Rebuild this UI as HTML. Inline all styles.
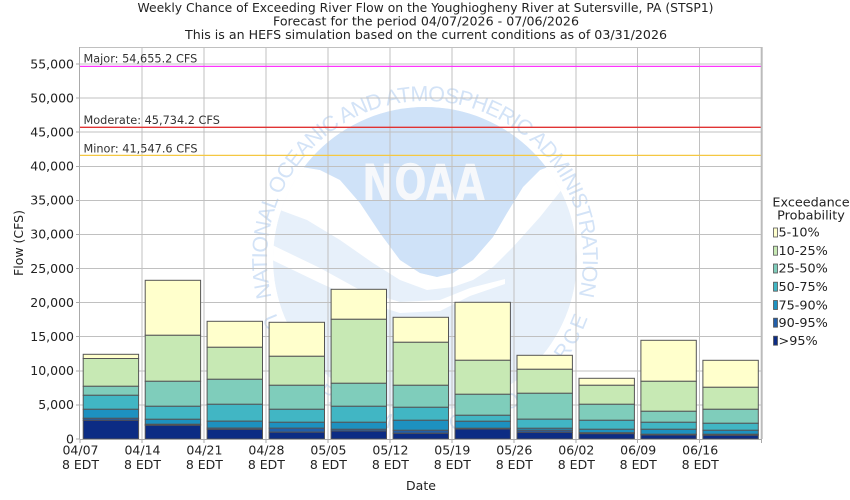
<!DOCTYPE html>
<html><head><meta charset="utf-8"><style>
html,body{margin:0;padding:0;background:#fff;}
svg{display:block;}
text{font-family:"DejaVu Sans","Liberation Sans",sans-serif;}
</style></head><body>
<svg width="850" height="500" viewBox="0 0 850 500" xmlns="http://www.w3.org/2000/svg">
<defs>
<clipPath id="cc"><circle cx="425" cy="259" r="152"/></clipPath>
<path id="topArc" d="M 271.7,297.2 A 158,158 0 1 1 578.6,296.1"/>
<path id="botArc" d="M 262.4,318.2 A 173,173 0 0 0 587.6,318.2"/>
</defs>
<rect x="0" y="0" width="850" height="500" fill="#fff"/>
<!-- titles -->
<text x="425.5" y="12" font-size="12" fill="#222" text-anchor="middle" textLength="576" lengthAdjust="spacingAndGlyphs">Weekly Chance of Exceeding River Flow on the Youghiogheny River at Sutersville, PA (STSP1)</text>
<text x="426" y="25.5" font-size="12" fill="#222" text-anchor="middle" textLength="306" lengthAdjust="spacingAndGlyphs">Forecast for the period 04/07/2026 - 07/06/2026</text>
<text x="426" y="39" font-size="12" fill="#222" text-anchor="middle" textLength="482" lengthAdjust="spacingAndGlyphs">This is an HEFS simulation based on the current conditions as of 03/31/2026</text>

<!-- plot bg -->
<rect x="80" y="47" width="682" height="392" fill="#fff"/>
<!-- watermark -->
<g clip-path="url(#cc)">
<circle cx="425" cy="259" r="152" fill="#e7f0fa"/>
<path d="M 250,140 L 302,167 L 320,170 340,180 360,203 380,233 400,260 420,273 437,277 453,273 473,260 493,237 507,213 523,187 540,170 548,167 L 600,140 L 600,182 L 563,188 540,217 513,247 493,267 473,280 453,287 427,290 400,280 373,263 340,240 307,220 280,210 250,200 Z" fill="#fff"/>
<path d="M 302,167 A 152,152 0 0 1 548,167 L 540,170 523,187 507,213 493,237 473,260 453,273 437,277 420,273 400,260 380,233 360,203 340,180 320,170 Z" fill="#cfe2f8"/>
<path d="M 268,243 L 320,268 360,290 400,302 440,300 470,288 505,279 L 505,284 470,296 440,311 400,313 360,301 320,283 268,258 Z" fill="#fff"/>
</g>
<text x="362" y="200" font-size="50" font-weight="bold" fill="#f6f8fb" textLength="123" lengthAdjust="spacingAndGlyphs">NOAA</text>
<text font-size="21.5" fill="#d3e3f7" style="font-family:'Liberation Sans',sans-serif"><textPath href="#topArc" textLength="572" lengthAdjust="spacing">NATIONAL OCEANIC AND ATMOSPHERIC ADMINISTRATION</textPath></text>
<text font-size="21" fill="#d3e3f7" style="font-family:'Liberation Sans',sans-serif"><textPath href="#botArc" textLength="423" lengthAdjust="spacing">U.S. DEPARTMENT OF COMMERCE</textPath></text>

<!-- grid -->
<g stroke="#c0c0c0" stroke-width="1" shape-rendering="crispEdges">
<line x1="80" y1="404.9" x2="762" y2="404.9"/>
<line x1="80" y1="370.8" x2="762" y2="370.8"/>
<line x1="80" y1="336.7" x2="762" y2="336.7"/>
<line x1="80" y1="302.6" x2="762" y2="302.6"/>
<line x1="80" y1="268.5" x2="762" y2="268.5"/>
<line x1="80" y1="234.4" x2="762" y2="234.4"/>
<line x1="80" y1="200.4" x2="762" y2="200.4"/>
<line x1="80" y1="166.3" x2="762" y2="166.3"/>
<line x1="80" y1="132.2" x2="762" y2="132.2"/>
<line x1="80" y1="98.1" x2="762" y2="98.1"/>
<line x1="80" y1="64.0" x2="762" y2="64.0"/>
<line x1="142" y1="47" x2="142" y2="439"/>
<line x1="203.9" y1="47" x2="203.9" y2="439"/>
<line x1="265.9" y1="47" x2="265.9" y2="439"/>
<line x1="327.9" y1="47" x2="327.9" y2="439"/>
<line x1="389.9" y1="47" x2="389.9" y2="439"/>
<line x1="451.8" y1="47" x2="451.8" y2="439"/>
<line x1="513.8" y1="47" x2="513.8" y2="439"/>
<line x1="575.8" y1="47" x2="575.8" y2="439"/>
<line x1="637.7" y1="47" x2="637.7" y2="439"/>
<line x1="699.7" y1="47" x2="699.7" y2="439"/>
<line x1="80" y1="47.3" x2="762" y2="47.3"/>
</g>

<!-- thresholds -->
<line x1="80" y1="66.4" x2="762" y2="66.4" stroke="#ff33ff" stroke-width="1.3"/>
<line x1="80" y1="127.3" x2="762" y2="127.3" stroke="#e03333" stroke-width="1.3"/>
<line x1="80" y1="155.4" x2="762" y2="155.4" stroke="#f5c842" stroke-width="1.3"/>
<text x="83.5" y="62.7" font-size="11.3" fill="#333">Major: 54,655.2 CFS</text>
<text x="83.5" y="124" font-size="11.3" fill="#333">Moderate: 45,734.2 CFS</text>
<text x="83.5" y="152.7" font-size="11.3" fill="#333">Minor: 41,547.6 CFS</text>

<!-- bars -->
<g stroke="#555" stroke-width="1">
<!-- B1 -->
<rect x="83.2" y="354.3" width="55.4" height="4.2" fill="#ffffcc"/>
<rect x="83.2" y="358.5" width="55.4" height="27.8" fill="#c7e9b4"/>
<rect x="83.2" y="386.3" width="55.4" height="9" fill="#7fcdbb"/>
<rect x="83.2" y="395.3" width="55.4" height="14" fill="#41b6c4"/>
<rect x="83.2" y="409.3" width="55.4" height="9" fill="#1d91c0"/>
<rect x="83.2" y="418.3" width="55.4" height="2" fill="#225ea8"/>
<rect x="83.2" y="420.3" width="55.4" height="18.7" fill="#0c2c84"/>
<!-- B2 -->
<rect x="145.2" y="280.3" width="55.4" height="55" fill="#ffffcc"/>
<rect x="145.2" y="335.3" width="55.4" height="46" fill="#c7e9b4"/>
<rect x="145.2" y="381.3" width="55.4" height="25" fill="#7fcdbb"/>
<rect x="145.2" y="406.3" width="55.4" height="13" fill="#41b6c4"/>
<rect x="145.2" y="419.3" width="55.4" height="5" fill="#1d91c0"/>
<rect x="145.2" y="424.3" width="55.4" height="1" fill="#225ea8"/>
<rect x="145.2" y="425.3" width="55.4" height="13.7" fill="#0c2c84"/>
<!-- B3 -->
<rect x="207.1" y="321.3" width="55.4" height="26" fill="#ffffcc"/>
<rect x="207.1" y="347.3" width="55.4" height="32" fill="#c7e9b4"/>
<rect x="207.1" y="379.3" width="55.4" height="25" fill="#7fcdbb"/>
<rect x="207.1" y="404.3" width="55.4" height="16.9" fill="#41b6c4"/>
<rect x="207.1" y="421.2" width="55.4" height="6.8" fill="#1d91c0"/>
<rect x="207.1" y="428" width="55.4" height="1.3" fill="#225ea8"/>
<rect x="207.1" y="429.3" width="55.4" height="9.7" fill="#0c2c84"/>
<!-- B4 -->
<rect x="269.1" y="322.3" width="55.4" height="34" fill="#ffffcc"/>
<rect x="269.1" y="356.3" width="55.4" height="29" fill="#c7e9b4"/>
<rect x="269.1" y="385.3" width="55.4" height="24" fill="#7fcdbb"/>
<rect x="269.1" y="409.3" width="55.4" height="13" fill="#41b6c4"/>
<rect x="269.1" y="422.3" width="55.4" height="5.9" fill="#1d91c0"/>
<rect x="269.1" y="428.2" width="55.4" height="4" fill="#225ea8"/>
<rect x="269.1" y="432.2" width="55.4" height="6.8" fill="#0c2c84"/>
<!-- B5 -->
<rect x="331.1" y="289.3" width="55.4" height="30" fill="#ffffcc"/>
<rect x="331.1" y="319.3" width="55.4" height="64" fill="#c7e9b4"/>
<rect x="331.1" y="383.3" width="55.4" height="23" fill="#7fcdbb"/>
<rect x="331.1" y="406.3" width="55.4" height="16" fill="#41b6c4"/>
<rect x="331.1" y="422.3" width="55.4" height="7" fill="#1d91c0"/>
<rect x="331.1" y="429.3" width="55.4" height="1.7" fill="#225ea8"/>
<rect x="331.1" y="431" width="55.4" height="8" fill="#0c2c84"/>
<!-- B6 -->
<rect x="393.1" y="317.3" width="55.4" height="25" fill="#ffffcc"/>
<rect x="393.1" y="342.3" width="55.4" height="43" fill="#c7e9b4"/>
<rect x="393.1" y="385.3" width="55.4" height="22" fill="#7fcdbb"/>
<rect x="393.1" y="407.3" width="55.4" height="13" fill="#41b6c4"/>
<rect x="393.1" y="420.3" width="55.4" height="10" fill="#1d91c0"/>
<rect x="393.1" y="430.3" width="55.4" height="3" fill="#225ea8"/>
<rect x="393.1" y="433.3" width="55.4" height="5.7" fill="#0c2c84"/>
<!-- B7 -->
<rect x="455" y="302.3" width="55.4" height="58" fill="#ffffcc"/>
<rect x="455" y="360.3" width="55.4" height="34" fill="#c7e9b4"/>
<rect x="455" y="394.3" width="55.4" height="21" fill="#7fcdbb"/>
<rect x="455" y="415.3" width="55.4" height="6" fill="#41b6c4"/>
<rect x="455" y="421.3" width="55.4" height="7" fill="#1d91c0"/>
<rect x="455" y="428.3" width="55.4" height="0.7" fill="#225ea8"/>
<rect x="455" y="429" width="55.4" height="10" fill="#0c2c84"/>
<!-- B8 -->
<rect x="517" y="355.3" width="55.4" height="14" fill="#ffffcc"/>
<rect x="517" y="369.3" width="55.4" height="24" fill="#c7e9b4"/>
<rect x="517" y="393.3" width="55.4" height="25.9" fill="#7fcdbb"/>
<rect x="517" y="419.2" width="55.4" height="9.1" fill="#41b6c4"/>
<rect x="517" y="428.3" width="55.4" height="2" fill="#1d91c0"/>
<rect x="517" y="430.3" width="55.4" height="2" fill="#225ea8"/>
<rect x="517" y="432.3" width="55.4" height="6.7" fill="#0c2c84"/>
<!-- B9 -->
<rect x="579" y="378.3" width="55.4" height="7" fill="#ffffcc"/>
<rect x="579" y="385.3" width="55.4" height="19" fill="#c7e9b4"/>
<rect x="579" y="404.3" width="55.4" height="16" fill="#7fcdbb"/>
<rect x="579" y="420.3" width="55.4" height="9" fill="#41b6c4"/>
<rect x="579" y="429.3" width="55.4" height="3.5" fill="#1d91c0"/>
<rect x="579" y="432.8" width="55.4" height="0.9" fill="#225ea8"/>
<rect x="579" y="433.7" width="55.4" height="5.3" fill="#0c2c84"/>
<!-- B10 -->
<rect x="640.9" y="340.3" width="55.4" height="41" fill="#ffffcc"/>
<rect x="640.9" y="381.3" width="55.4" height="30" fill="#c7e9b4"/>
<rect x="640.9" y="411.3" width="55.4" height="11" fill="#7fcdbb"/>
<rect x="640.9" y="422.3" width="55.4" height="7" fill="#41b6c4"/>
<rect x="640.9" y="429.3" width="55.4" height="5" fill="#1d91c0"/>
<rect x="640.9" y="434.3" width="55.4" height="0.7" fill="#225ea8"/>
<rect x="640.9" y="435" width="55.4" height="4" fill="#0c2c84"/>
<!-- B11 -->
<rect x="702.9" y="360.3" width="55.4" height="27" fill="#ffffcc"/>
<rect x="702.9" y="387.3" width="55.4" height="22" fill="#c7e9b4"/>
<rect x="702.9" y="409.3" width="55.4" height="14" fill="#7fcdbb"/>
<rect x="702.9" y="423.3" width="55.4" height="7" fill="#41b6c4"/>
<rect x="702.9" y="430.3" width="55.4" height="4" fill="#1d91c0"/>
<rect x="702.9" y="434.3" width="55.4" height="1" fill="#225ea8"/>
<rect x="702.9" y="435.3" width="55.4" height="3.7" fill="#0c2c84"/>
</g>

<!-- axes / frame -->
<g stroke="#aaa" stroke-width="1" shape-rendering="crispEdges">
<line x1="79.5" y1="47" x2="79.5" y2="439.5"/>
<line x1="79.5" y1="439.5" x2="762" y2="439.5"/>
<line x1="76" y1="439" x2="80" y2="439"/>
<line x1="76" y1="404.9" x2="80" y2="404.9"/>
<line x1="76" y1="370.8" x2="80" y2="370.8"/>
<line x1="76" y1="336.7" x2="80" y2="336.7"/>
<line x1="76" y1="302.6" x2="80" y2="302.6"/>
<line x1="76" y1="268.5" x2="80" y2="268.5"/>
<line x1="76" y1="234.4" x2="80" y2="234.4"/>
<line x1="76" y1="200.4" x2="80" y2="200.4"/>
<line x1="76" y1="166.3" x2="80" y2="166.3"/>
<line x1="76" y1="132.2" x2="80" y2="132.2"/>
<line x1="76" y1="98.1" x2="80" y2="98.1"/>
<line x1="76" y1="64.0" x2="80" y2="64.0"/>
<line x1="80" y1="439" x2="80" y2="443"/>
<line x1="142" y1="439" x2="142" y2="443"/>
<line x1="203.9" y1="439" x2="203.9" y2="443"/>
<line x1="265.9" y1="439" x2="265.9" y2="443"/>
<line x1="327.9" y1="439" x2="327.9" y2="443"/>
<line x1="389.9" y1="439" x2="389.9" y2="443"/>
<line x1="451.8" y1="439" x2="451.8" y2="443"/>
<line x1="513.8" y1="439" x2="513.8" y2="443"/>
<line x1="575.8" y1="439" x2="575.8" y2="443"/>
<line x1="637.7" y1="439" x2="637.7" y2="443"/>
<line x1="699.7" y1="439" x2="699.7" y2="443"/>
<line x1="761.7" y1="439" x2="761.7" y2="443"/>
</g>
<line x1="761.7" y1="47" x2="761.7" y2="439" stroke="#bbb" stroke-width="2"/>

<!-- y tick labels -->
<g font-size="12.5" fill="#222" text-anchor="end">
<text x="74" y="443.3">0</text>
<text x="74" y="409.2">5,000</text>
<text x="74" y="375.1">10,000</text>
<text x="74" y="341">15,000</text>
<text x="74" y="306.9">20,000</text>
<text x="74" y="272.8">25,000</text>
<text x="74" y="238.7">30,000</text>
<text x="74" y="204.7">35,000</text>
<text x="74" y="170.6">40,000</text>
<text x="74" y="136.5">45,000</text>
<text x="74" y="102.4">50,000</text>
<text x="74" y="68.3">55,000</text>
</g>
<!-- x tick labels -->
<g font-size="12.5" fill="#222" text-anchor="middle">
<text x="80.5" y="454.5">04/07</text><text x="80.5" y="469">8 EDT</text>
<text x="142.5" y="454.5">04/14</text><text x="142.5" y="469">8 EDT</text>
<text x="204.4" y="454.5">04/21</text><text x="204.4" y="469">8 EDT</text>
<text x="266.4" y="454.5">04/28</text><text x="266.4" y="469">8 EDT</text>
<text x="328.4" y="454.5">05/05</text><text x="328.4" y="469">8 EDT</text>
<text x="390.4" y="454.5">05/12</text><text x="390.4" y="469">8 EDT</text>
<text x="452.3" y="454.5">05/19</text><text x="452.3" y="469">8 EDT</text>
<text x="514.3" y="454.5">05/26</text><text x="514.3" y="469">8 EDT</text>
<text x="576.3" y="454.5">06/02</text><text x="576.3" y="469">8 EDT</text>
<text x="638.2" y="454.5">06/09</text><text x="638.2" y="469">8 EDT</text>
<text x="700.2" y="454.5">06/16</text><text x="700.2" y="469">8 EDT</text>
</g>
<text x="421" y="490" font-size="12.5" fill="#222" text-anchor="middle">Date</text>
<text transform="translate(23,243) rotate(-90)" font-size="12.5" fill="#222" text-anchor="middle">Flow (CFS)</text>

<!-- legend -->
<text x="811" y="206.5" font-size="12.8" fill="#222" text-anchor="middle">Exceedance</text>
<text x="811" y="219.5" font-size="12.8" fill="#222" text-anchor="middle">Probability</text>
<g stroke="#555" stroke-width="0.8">
<rect x="773.5" y="228" width="4" height="9" fill="#ffffcc"/>
<rect x="773.5" y="246.2" width="4" height="9" fill="#c7e9b4"/>
<rect x="773.5" y="264" width="4" height="9" fill="#7fcdbb"/>
<rect x="773.5" y="282.2" width="4" height="9" fill="#41b6c4"/>
<rect x="773.5" y="300.5" width="4" height="9" fill="#1d91c0"/>
<rect x="773.5" y="318.2" width="4" height="9" fill="#225ea8"/>
<rect x="773.5" y="336.2" width="4" height="9" fill="#0c2c84"/>
</g>
<g font-size="12.8" fill="#222">
<text x="778.5" y="236.7">5-10%</text>
<text x="778.5" y="255">10-25%</text>
<text x="778.5" y="272.7">25-50%</text>
<text x="778.5" y="291">50-75%</text>
<text x="778.5" y="309.3">75-90%</text>
<text x="778.5" y="327">90-95%</text>
<text x="778.5" y="345">&gt;95%</text>
</g>
</svg>
</body></html>
